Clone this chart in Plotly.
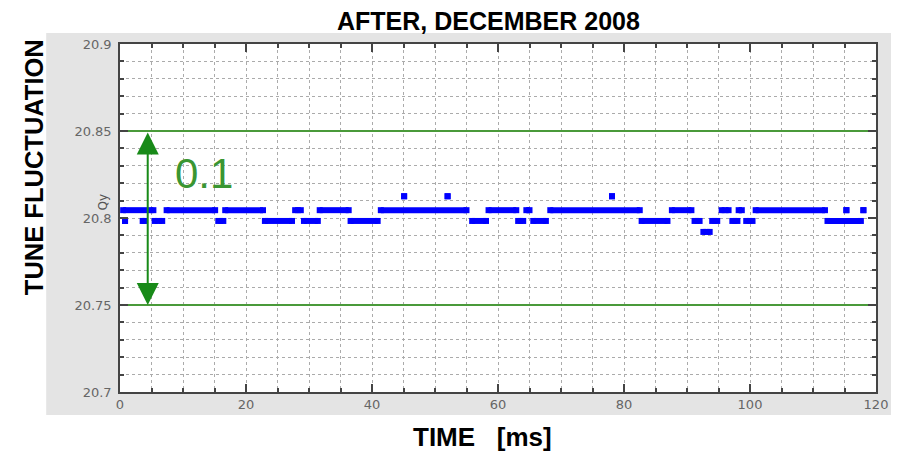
import plotly.graph_objects as go

# ---- data (time in ms, tune value) ----
upper_level = 20.8045
upper_start = [0.5, 7.4, 16.7, 27.8, 31.7, 41.4, 58.5, 64.5, 68.3, 87.6, 95.5, 98.2, 100.9, 115.3, 118.0]
upper_end = [5.3, 15.1, 22.7, 28.7, 36.3, 55.0, 62.9, 65.0, 82.5, 90.7, 96.6, 98.7, 111.9, 115.3, 118.0]

lower_level = 20.7983
lower_start = [0.8, 3.6, 5.5, 15.6, 23.0, 29.2, 36.6, 55.9, 63.2, 65.6, 82.8, 91.2, 94.0, 97.2, 99.4, 112.3]
lower_end = [0.8, 3.9, 6.7, 16.4, 27.3, 31.4, 40.9, 58.1, 64.0, 67.6, 86.9, 92.0, 94.8, 98.0, 100.4, 117.6]

top_level = 20.8125
top_start = [45.1, 52.0, 78.1]
top_end = [45.1, 52.0, 78.1]

bottom_level = 20.792
bottom_start = [92.6]
bottom_end = [93.6]

band_low = 20.75
band_high = 20.85
arrow_time = 4.4

x_ticks = [0, 20, 40, 60, 80, 100, 120]
x_labels = ["0", "20", "40", "60", "80", "100", "120"]
y_ticks = [20.7, 20.75, 20.8, 20.85, 20.9]
y_labels = ["20.7", "20.75", "20.8", "20.85", "20.9"]

BLUE = "#0000ff"
GREEN_LINE = "#4a9a3a"
GREEN_ARROW = "#188a18"
GRID = "#ababab"
BOLD_FONT = "Liberation Sans, Arial"


def segments(starts, ends, level):
    xs, ys = [], []
    for s, e in zip(starts, ends):
        xs += [s, e, None]
        ys += [level, level, None]
    return xs, ys


fig = go.Figure()

for st, en, lv in [(upper_start, upper_end, upper_level),
                   (lower_start, lower_end, lower_level),
                   (top_start, top_end, top_level),
                   (bottom_start, bottom_end, bottom_level)]:
    xs, ys = segments(st, en, lv)
    fig.add_trace(go.Scatter(
        x=xs, y=ys, mode="lines+markers",
        line=dict(color=BLUE, width=6),
        marker=dict(symbol="square", size=6, color=BLUE, line=dict(width=0)),
        showlegend=False, hoverinfo="skip", connectgaps=False))

# green band lines
for lv in [band_low, band_high]:
    fig.add_trace(go.Scatter(
        x=[0, 120], y=[lv, lv], mode="lines",
        line=dict(color=GREEN_LINE, width=2),
        showlegend=False, hoverinfo="skip"))

# gray panel behind the inset, white plot area
fig.add_shape(type="rect", xref="paper", yref="paper",
              x0=-0.0976, x1=1.0198, y0=-0.0661, y1=1.0316,
              fillcolor="#e4e4e4", line=dict(width=0), layer="below")
fig.add_shape(type="rect", xref="x domain", yref="y domain",
              x0=0, x1=1, y0=0, y1=1,
              fillcolor="white", line=dict(width=0), layer="below")

# double arrow
fig.add_annotation(x=arrow_time, y=band_low, ax=arrow_time, ay=band_high,
                   xref="x", yref="y", axref="x", ayref="y",
                   showarrow=True, arrowside="end+start",
                   arrowhead=2, startarrowhead=2,
                   arrowsize=2.2, startarrowsize=2.2,
                   arrowwidth=2, arrowcolor=GREEN_ARROW, text="")

fig.add_annotation(x=13.4, y=20.8254, xref="x", yref="y", text="0.1",
                   showarrow=False, xanchor="center", yanchor="middle",
                   font=dict(family="Liberation Sans, Arial", size=42, color="#3a9632"))

fig.add_annotation(x=-0.0224, y=0.545, xref="paper", yref="paper", text="Qy",
                   showarrow=False, textangle=-90, xanchor="center", yanchor="middle",
                   font=dict(family="DejaVu Sans", size=12, color="#555555"))

fig.add_annotation(x=0.488, y=1.066, xref="paper", yref="paper",
                   text="<b>AFTER, DECEMBER 2008</b>", showarrow=False,
                   xanchor="center", yanchor="middle", borderpad=0,
                   font=dict(family=BOLD_FONT, size=25, color="black"))
fig.add_annotation(x=0.480, y=-0.129, xref="paper", yref="paper",
                   text="<b>TIME\u00a0\u00a0\u00a0[ms]</b>", showarrow=False,
                   xanchor="center", yanchor="middle",
                   font=dict(family=BOLD_FONT, size=26, color="black"))
fig.add_annotation(x=-0.1135, y=0.6466, xref="paper", yref="paper",
                   text="<b>TUNE FLUCTUATION</b>", showarrow=False, textangle=-90,
                   xanchor="center", yanchor="middle",
                   font=dict(family=BOLD_FONT, size=25.5, color="black"))

axis_common = dict(
    showline=True, linecolor="#444444", linewidth=1.5, mirror="ticks",
    ticks="inside", tickcolor="#444444", ticklen=8, tickwidth=1.5,
    showgrid=True, gridcolor=GRID, griddash="dot", gridwidth=1,
    zeroline=False,
    tickfont=dict(family="DejaVu Sans", size=13, color="#666666"),
)

fig.update_xaxes(range=[0, 120], tickmode="array", tickvals=x_ticks, ticktext=x_labels,
                 minor=dict(dtick=5, tick0=0, ticks="inside", ticklen=4, tickcolor="#444444",
                            showgrid=True, gridcolor=GRID, griddash="dot", gridwidth=1),
                 **axis_common)
fig.update_yaxes(range=[20.7, 20.9], tickmode="array", tickvals=y_ticks, ticktext=y_labels,
                 ticklabelstandoff=4,
                 minor=dict(dtick=0.01, tick0=20.7, ticks="inside", ticklen=4, tickcolor="#444444",
                            showgrid=True, gridcolor=GRID, griddash="dot", gridwidth=1),
                 **axis_common)

# the page adds an 8px body margin, so the figure is 8px smaller and margins shifted
fig.update_layout(width=892, height=448,
                  margin=dict(l=112, r=22, t=36, b=64),
                  paper_bgcolor="white", plot_bgcolor="white",
                  showlegend=False)

fig.write_html("out.html")
